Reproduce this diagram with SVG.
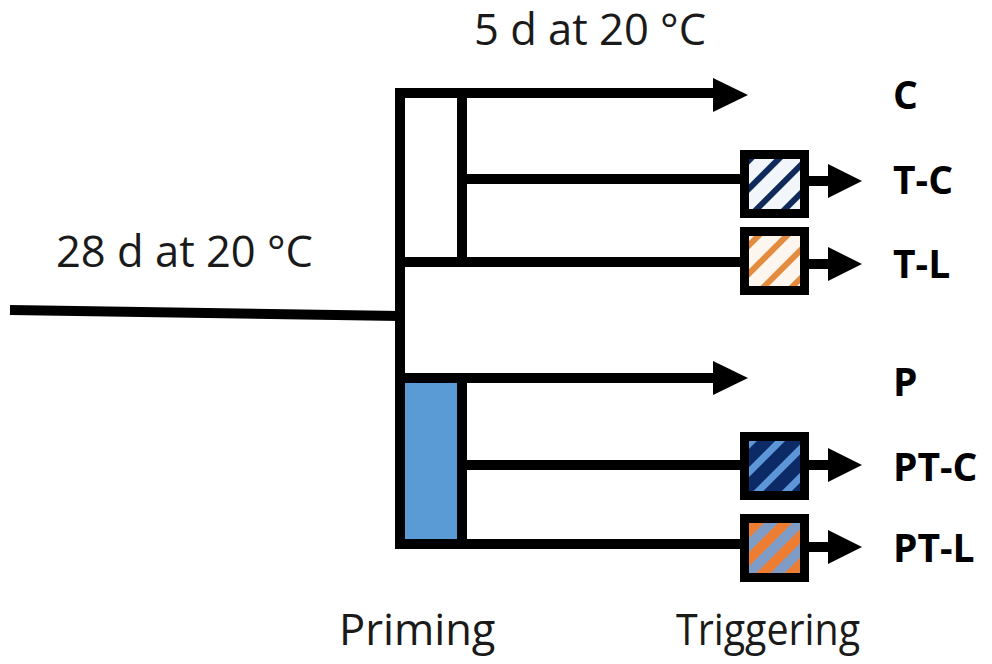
<svg xmlns="http://www.w3.org/2000/svg" width="992" height="664" viewBox="0 0 992 664">
<style>
.ln{stroke:#000;stroke-width:10;fill:none}
.hd{fill:#000}
.bx{stroke:#000;stroke-width:9}
.t{font-family:"Open Sans","Liberation Sans",sans-serif;font-size:43.5px;fill:#1a1a1a}
.lb{font-family:"Open Sans","Liberation Sans",sans-serif;font-size:39px;font-weight:bold;fill:#000}
</style>
<defs>
<pattern id="pTC" width="20" height="20" patternUnits="userSpaceOnUse" patternTransform="rotate(45)">
<rect width="20" height="20" fill="#f2f6fb"/><rect width="6" height="20" fill="#0f2a5a"/>
</pattern>
<pattern id="pTL" width="20" height="20" patternUnits="userSpaceOnUse" patternTransform="rotate(45)">
<rect width="20" height="20" fill="#fdf6ef"/><rect width="6" height="20" fill="#e38b3e"/>
</pattern>
<pattern id="pPC" width="20" height="20" patternUnits="userSpaceOnUse" patternTransform="rotate(45)">
<rect width="20" height="20" fill="#0c2a66"/><rect width="7" height="20" fill="#5e97d8"/>
</pattern>
<pattern id="pPL" width="20" height="20" patternUnits="userSpaceOnUse" patternTransform="rotate(45)">
<rect width="20" height="20" fill="#7f9cc6"/><rect width="10" height="20" fill="#ec7d33"/>
</pattern>
</defs>
<g id="connectors">
<line class="ln" x1="10" y1="310" x2="400" y2="316"/>
<path class="ln" d="M400 548 V93 H715"/>
<polygon class="hd" points="713,78 748,95 713,112"/>
<line class="ln" x1="462" y1="93" x2="462" y2="262"/>
<line class="ln" x1="462" y1="179" x2="745" y2="179"/>
<line class="ln" x1="400" y1="262" x2="745" y2="262"/>
<line class="ln" x1="462" y1="378" x2="715" y2="378"/>
<polygon class="hd" points="713,361 748,378 713,395"/>
<line class="ln" x1="462" y1="465" x2="745" y2="465"/>
<line class="ln" x1="400" y1="544" x2="745" y2="544"/>
<line class="ln" x1="805" y1="181" x2="830" y2="181"/>
<polygon class="hd" points="828,164 862,181 828,198"/>
<line class="ln" x1="805" y1="264" x2="830" y2="264"/>
<polygon class="hd" points="828,247 862,264 828,281"/>
<line class="ln" x1="805" y1="465" x2="830" y2="465"/>
<polygon class="hd" points="828,448 862,465 828,482"/>
<line class="ln" x1="805" y1="547" x2="830" y2="547"/>
<polygon class="hd" points="828,530 862,547 828,564"/>
</g>
<g id="priming-box"><rect x="400" y="378" width="62" height="166" fill="#5b9bd5" stroke="#000" stroke-width="10"/></g>
<g id="box-TC"><rect class="bx" x="744.5" y="154.5" width="60" height="59" fill="url(#pTC)"/></g>
<g id="box-TL"><rect class="bx" x="744.5" y="231.5" width="60" height="59" fill="url(#pTL)"/></g>
<g id="box-PTC"><rect class="bx" x="744.5" y="436.5" width="60" height="59" fill="url(#pPC)"/></g>
<g id="box-PTL"><rect class="bx" x="744.5" y="518.5" width="60" height="59" fill="url(#pPL)"/></g>
<g id="texts">
<text class="t" x="474" y="45">5 d at 20 °C</text>
<text class="t" x="56" y="267">28 d at 20 °C</text>
<text class="t" x="339" y="645">Priming</text>
<text class="t" x="676" y="645" textLength="184" lengthAdjust="spacingAndGlyphs">Triggering</text>
<text class="lb" x="893" y="109">C</text>
<text class="lb" x="893" y="194">T-C</text>
<text class="lb" x="893" y="278">T-L</text>
<text class="lb" x="893" y="396">P</text>
<text class="lb" x="893" y="481">PT-C</text>
<text class="lb" x="893" y="562">PT-L</text>
</g>
</svg>
